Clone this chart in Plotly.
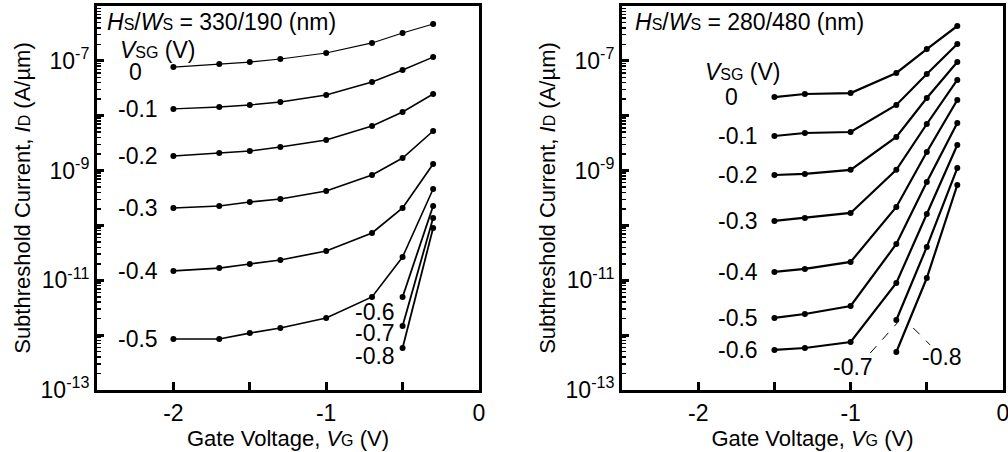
import math
import plotly.graph_objects as go

# ---------------- data ----------------
# Left panel: Hs/Ws = 330/190 nm
left_vg = [-2.0, -1.7, -1.5, -1.3, -1.0, -0.7, -0.5, -0.3]
left_vg_short = [-0.5, -0.3]
left_vsg = ["0", "-0.1", "-0.2", "-0.3", "-0.4", "-0.5"]
left_id = [
    [7.7e-8, 8.8e-8, 9.5e-8, 1.08e-7, 1.39e-7, 2.12e-7, 3.22e-7, 4.70e-7],
    [1.33e-8, 1.44e-8, 1.57e-8, 1.78e-8, 2.39e-8, 4.12e-8, 6.81e-8, 1.17e-7],
    [1.85e-9, 2.09e-9, 2.28e-9, 2.69e-9, 3.61e-9, 6.50e-9, 1.17e-8, 2.49e-8],
    [2.08e-10, 2.26e-10, 2.67e-10, 3.03e-10, 4.25e-10, 8.30e-10, 1.69e-9, 5.26e-9],
    [1.48e-11, 1.67e-11, 1.98e-11, 2.34e-11, 3.42e-11, 7.28e-11, 2.08e-10, 1.32e-9],
    [8.5e-13, 8.5e-13, 1.09e-12, 1.35e-12, 2.06e-12, 4.97e-12, 2.66e-11, 4.61e-10],
]
left_vsg_short = ["-0.6", "-0.7", "-0.8"]
left_id_short = [
    [4.97e-12, 2.26e-10],
    [1.47e-12, 1.37e-10],
    [5.83e-13, 8.97e-11],
]

# Right panel: Hs/Ws = 280/480 nm
right_vg = [-1.5, -1.3, -1.0, -0.7, -0.5, -0.3]
right_vg_short = [-0.7, -0.5, -0.3]
right_vsg = ["0", "-0.1", "-0.2", "-0.3", "-0.4", "-0.5", "-0.6"]
right_id = [
    [2.19e-8, 2.49e-8, 2.59e-8, 6.01e-8, 1.64e-7, 4.32e-7],
    [4.27e-9, 4.84e-9, 5.05e-9, 1.57e-8, 5.75e-8, 2.03e-7],
    [8.30e-10, 8.67e-10, 1.03e-9, 4.09e-9, 2.10e-8, 9.53e-8],
    [1.21e-10, 1.37e-10, 1.69e-10, 1.03e-9, 7.06e-9, 4.48e-8],
    [1.42e-11, 1.61e-11, 2.16e-11, 2.17e-10, 2.18e-9, 1.93e-8],
    [2.06e-12, 2.43e-12, 3.40e-12, 4.59e-11, 6.19e-10, 7.36e-9],
    [5.37e-13, 5.83e-13, 7.50e-13, 8.93e-12, 1.62e-10, 2.92e-9],
]
right_vsg_short = ["-0.7", "-0.8"]
right_id_short = [
    [1.89e-12, 4.05e-11, 1.11e-9],
    [4.93e-13, 1.10e-11, 5.46e-10],
]

x_tickvals = [-2, -1.5, -1, -0.5, 0]
x_ticktext = ["-2", "", "-1", "", "0"]
y_decades = [-13, -12, -11, -10, -9, -8, -7, -6]
y_labelled = [-13, -11, -9, -7]

# ---------------- figure ----------------
FONT = "Liberation Sans, Arial, sans-serif"
FS = 23
FT = 22
SMALL = "<span style='font-size:16px'>%s</span>"

fig = go.Figure()

def add_curve(x, y, xa, ya, width):
    fig.add_trace(go.Scatter(
        x=x, y=y, xaxis=xa, yaxis=ya, mode="lines+markers",
        line=dict(color="black", width=width),
        marker=dict(color="black", size=6),
        showlegend=False, hoverinfo="skip"))

left_widths = [1.2, 1.4, 1.5, 1.6, 1.7, 1.6]
for ys, w in zip(left_id, left_widths):
    add_curve(left_vg, ys, "x", "y", w)
for ys in left_id_short:
    add_curve(left_vg_short, ys, "x", "y", 1.8)
for ys in right_id:
    add_curve(right_vg, ys, "x2", "y2", 2.2)
for ys in right_id_short:
    add_curve(right_vg_short, ys, "x2", "y2", 2.2)

# dashed leader lines for the right-panel -0.7 / -0.8 labels
leaders = [
    ([-0.871, -0.694], [10 ** -12.325, 10 ** -11.778]),
    ([-0.589, -0.478], [10 ** -11.869, 10 ** -12.179]),
]
for lx, ly in leaders:
    fig.add_trace(go.Scatter(x=lx, y=ly, xaxis="x2", yaxis="y2", mode="lines",
                             line=dict(color="black", width=1, dash="dash"),
                             showlegend=False, hoverinfo="skip"))

minor_vals = [m * 10.0 ** d for d in range(-13, -6) for m in range(2, 10)]
ytickvals = [10.0 ** d for d in y_decades]
yticktext = [("10<sup>%d</sup>" % d) if d in y_labelled else "" for d in y_decades]

def xaxis_cfg(domain, anchor):
    return dict(domain=domain, anchor=anchor, range=[-2.5, 0], tickmode="array",
                tickvals=x_tickvals, ticktext=x_ticktext,
                ticks="inside", ticklen=8, tickwidth=3, tickcolor="black",
                showline=True, linewidth=3, linecolor="black", mirror=True,
                showgrid=False, zeroline=False, automargin=False,
                ticklabeloverflow="allow",
                tickfont=dict(family=FONT, size=FS, color="black"),
                title=dict(text="Gate Voltage, <i>V</i>" + SMALL % "G" + " (V)",
                           font=dict(family=FONT, size=FT, color="black"),
                           standoff=0))

def yaxis_cfg(anchor):
    return dict(domain=[0, 1], type="log", range=[-13, -6], anchor=anchor,
                tickmode="array", tickvals=ytickvals, ticktext=yticktext,
                ticks="inside", ticklen=7, tickwidth=3, tickcolor="black",
                minor=dict(tickmode="array", tickvals=minor_vals, ticks="inside",
                           ticklen=4, tickwidth=1.5, tickcolor="black", showgrid=False),
                showline=True, linewidth=3, linecolor="black", mirror=True,
                showgrid=False, zeroline=False, automargin=False,
                tickfont=dict(family=FONT, size=FS, color="black"),
                title=dict(text="Subthreshold Current, <i>I</i>" + SMALL % "D" + " (A/µm)",
                           font=dict(family=FONT, size=FT, color="black"),
                           standoff=4))

fig.update_layout(
    width=1008, height=452,
    margin=dict(l=97, r=5, t=6, b=62),
    paper_bgcolor="white", plot_bgcolor="white",
    xaxis=xaxis_cfg([0.0, 0.4216], "y"),
    yaxis=yaxis_cfg("x"),
    xaxis2=xaxis_cfg([0.5795, 1.0], "y2"),
    yaxis2=yaxis_cfg("x2"),
)

def ann(text, x, ylog, xref, yref, xanchor="center"):
    fig.add_annotation(text=text, x=x, y=ylog, xref=xref, yref=yref,
                       xanchor=xanchor, yanchor="middle", showarrow=False,
                       font=dict(family=FONT, size=FS, color="black"))

hw = "<i>H</i>" + SMALL % "S" + "/<i>W</i>" + SMALL % "S"
vsg = "<i>V</i>" + SMALL % "SG" + " (V)"

# left panel labels
ann(hw + " = 330/190 (nm)", -2.45, -6.29, "x", "y", "left")
ann(vsg, -2.36, -6.80, "x", "y", "left")
ann("0", -2.249, -7.203, "x", "y")
for lab, ys in zip(left_vsg[1:], left_id[1:]):
    ann(lab, -2.085, math.log10(ys[0]), "x", "y", "right")
for lab, yl in zip(left_vsg_short, [-11.578, -11.961, -12.38]):
    ann(lab, -0.534, yl, "x", "y", "right")

# right panel labels
ann(hw + " = 280/480 (nm)", -2.427, -6.29, "x2", "y2", "left")
ann(vsg, -1.967, -7.203, "x2", "y2", "left")
ann("0", -1.783, math.log10(right_id[0][0]), "x2", "y2")
for lab, ys in zip(right_vsg[1:], right_id[1:]):
    ann(lab, -1.593, math.log10(ys[0]), "x2", "y2", "right")
ann("-0.7", -0.983, -12.58, "x2", "y2")
ann("-0.8", -0.399, -12.40, "x2", "y2")

fig.write_html("out.html",
               config={"displayModeBar": False, "staticPlot": True},
               post_script="document.body.style.margin='0px';"
                           "document.body.style.overflow='hidden';")
